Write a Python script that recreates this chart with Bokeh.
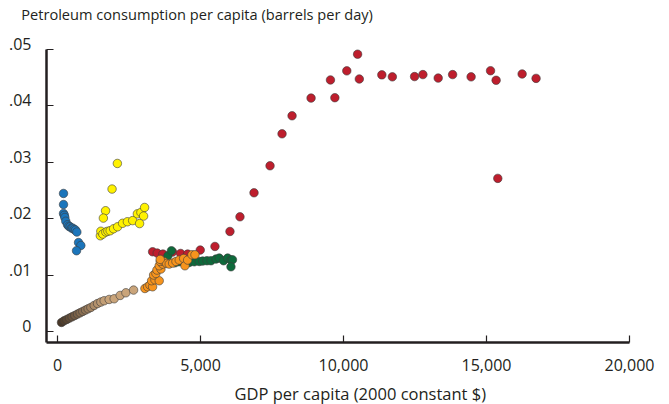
from bokeh.plotting import figure
from bokeh.models import Range1d, FixedTicker, Title, LinearAxis
from bokeh.embed import file_html
from bokeh.resources import INLINE

# ---- data (GDP per capita, petroleum consumption per capita) ----
red_x = [3325, 3486, 3686, 4025, 4305, 4550, 4991, 5505, 6030, 6380, 6871, 7431, 7851, 8201, 8866,
         9544, 9698, 10115, 10493, 10553, 11340, 11708, 12485, 12776, 13311, 13815, 14462, 15141,
         15336, 15395, 16246, 16733]
red_y = [0.01416, 0.01393, 0.01375, 0.01411, 0.01386, 0.01375, 0.01446, 0.0151, 0.01775, 0.02035,
         0.0246, 0.02938, 0.03504, 0.03823, 0.04136, 0.04457, 0.04143, 0.04618, 0.04913, 0.04474,
         0.04547, 0.04512, 0.04517, 0.04552, 0.0449, 0.04552, 0.04512, 0.0462, 0.04451, 0.02715,
         0.04563, 0.04485]

green_x = [3861, 3983, 4106, 4246, 4389, 4494, 4606, 4781, 4956, 5075, 5226, 5366, 5541, 5656,
           5809, 5949, 6065, 6117, 6065]
green_y = [0.01345, 0.01434, 0.01221, 0.01239, 0.01239, 0.01221, 0.01227, 0.01239, 0.01244,
           0.01251, 0.01257, 0.01257, 0.01287, 0.01304, 0.01257, 0.01304, 0.01269, 0.01274, 0.0115]

orange_x = [3056, 3150, 3231, 3325, 3290, 3406, 3556, 3360, 3441, 3476, 3616, 3556, 3675, 3591,
            3731, 3815, 3906, 4025, 4141, 4256, 4410, 4456, 4550, 4700, 4806, 3591]
orange_y = [0.00766, 0.00796, 0.00827, 0.00796, 0.00903, 0.0092, 0.00903, 0.01004, 0.01032,
            0.01092, 0.0111, 0.01168, 0.01198, 0.01244, 0.01239, 0.01209, 0.01198, 0.01216,
            0.01244, 0.01269, 0.01297, 0.01168, 0.01269, 0.01363, 0.01363, 0.01281]

brown_x = [140, 231, 326, 420, 511, 605, 700, 791, 885, 980, 1071, 1166, 1281, 1400, 1516, 1631,
           1806, 1981, 2191, 2391, 2660]
brown_y = [0.00165, 0.00195, 0.00218, 0.00242, 0.00265, 0.00288, 0.00313, 0.00336, 0.0036,
           0.00384, 0.00407, 0.0043, 0.00466, 0.005, 0.00526, 0.00549, 0.00572, 0.00584, 0.00643,
           0.0069, 0.00738]

blue_x = [210, 210, 210, 238, 256, 290, 350, 395, 441, 490, 536, 581, 630, 676, 735, 816, 665]
blue_y = [0.02448, 0.02253, 0.02094, 0.02062, 0.02023, 0.01956, 0.01894, 0.01867, 0.01858,
          0.01835, 0.01832, 0.01811, 0.018, 0.01765, 0.0158, 0.01527, 0.01434]

yellow_x = [2093, 1907, 1680, 1603, 1498, 1515, 1585, 1690, 1760, 1841, 1960, 2100, 2275, 2443,
            2628, 2793, 2915, 3045, 3010, 2870]
yellow_y = [0.02979, 0.02526, 0.02142, 0.02012, 0.01699, 0.01779, 0.01729, 0.01765, 0.01779,
            0.01788, 0.01823, 0.01858, 0.0192, 0.01947, 0.01968, 0.02088, 0.02112, 0.022, 0.02048,
            0.01915]

x_ticks = [0, 5000, 10000, 15000, 20000]
x_tick_labels = ["0", "5,000", "10,000", "15,000", "20,000"]
y_ticks = [0, 0.01, 0.02, 0.03, 0.04, 0.05]
y_tick_labels = ["0", ".01", ".02", ".03", ".04", ".05"]

title_text = "Petroleum consumption per capita (barrels per day)"
xlabel_text = "GDP per capita (2000 constant $)"

FONT = "Open Sans"
TXT = "#231f20"

Y0, Y1 = -0.0019, 0.0512     # plotted y range (axis line stops at .05)
LAB_SHIFT = 0.00095          # y tick labels sit a little above their ticks
TITLE_ANCHOR = 4880          # x position (GDP units) where the title text is centred

p = figure(frame_width=583, frame_height=300,
           min_border_left=46, min_border_right=40, min_border_top=42, min_border_bottom=0,
           x_range=Range1d(-385, 20000), y_range=Range1d(Y0, Y1),
           output_backend="svg", toolbar_location=None)
p.outline_line_color = None
p.xgrid.visible = False
p.ygrid.visible = False
p.background_fill_color = "white"
p.border_fill_color = "white"

xax = p.xaxis[0]
yax = p.yaxis[0]
for ax in (xax, yax):
    ax.axis_line_width = 2.5
    ax.axis_line_color = TXT
    ax.major_tick_in = 7
    ax.major_tick_out = 0
    ax.major_tick_line_color = TXT
    ax.major_tick_line_width = 1.2
    ax.minor_tick_line_color = None

xax.ticker = FixedTicker(ticks=x_ticks)
xax.major_label_overrides = {t: l for t, l in zip(x_ticks, x_tick_labels)}
xax.major_label_text_font = FONT
xax.major_label_text_font_size = "16px"
xax.major_label_text_color = TXT
xax.major_label_standoff = 16

yax.ticker = FixedTicker(ticks=y_ticks)
yax.bounds = (Y0, 0.05)
yax.major_label_overrides = {t: "" for t in y_ticks}
yax.major_label_text_font_size = "1px"
yax.major_label_standoff = 0

# labels-only axis, slightly shifted so labels sit above the ticks
p.extra_y_ranges = {"lab": Range1d(Y0 - LAB_SHIFT, Y1 - LAB_SHIFT)}
lab_axis = LinearAxis(y_range_name="lab", ticker=FixedTicker(ticks=y_ticks),
                      major_label_overrides={t: l for t, l in zip(y_ticks, y_tick_labels)},
                      axis_line_color=None, major_tick_line_color=None,
                      minor_tick_line_color=None, major_label_standoff=9,
                      major_label_text_font=FONT, major_label_text_font_size="16px",
                      major_label_text_color=TXT)
p.add_layout(lab_axis, "left")

# chart title, carried by a bare axis above the frame
title_axis = LinearAxis(ticker=FixedTicker(ticks=[TITLE_ANCHOR]),
                        major_label_overrides={TITLE_ANCHOR: title_text},
                        axis_line_color=None, major_tick_line_color=None,
                        minor_tick_line_color=None, major_tick_in=0, major_tick_out=0,
                        major_label_standoff=19, major_label_text_font=FONT,
                        major_label_text_font_size="14.6px", major_label_text_color=TXT)
p.add_layout(title_axis, "above")

# x axis title
p.add_layout(Title(text=xlabel_text, align="left", offset=188, standoff=13,
                   text_font=FONT, text_font_size="16.5px", text_font_style="normal",
                   text_color=TXT), "below")

def lerp(c1, c2, t):
    a = [int(c1[i:i + 2], 16) for i in (1, 3, 5)]
    b = [int(c2[i:i + 2], 16) for i in (1, 3, 5)]
    return "#%02x%02x%02x" % tuple(int(round(a[k] + (b[k] - a[k]) * t)) for k in range(3))

n_b = len(brown_x)
brown_cols = [lerp("#4a3828", "#c9a47a", min(1.0, i / (n_b * 0.75))) for i in range(n_b)]

common = dict(size=8.5, line_color="#3d3d3d", line_width=0.6)
p.scatter(red_x, red_y, fill_color="#be1e2d", **common)
p.scatter(green_x, green_y, fill_color="#0e6a3b", **common)
p.scatter(orange_x, orange_y, fill_color="#f7941d", **common)
p.scatter(brown_x, brown_y, fill_color=brown_cols, **common)
p.scatter(blue_x, blue_y, fill_color="#1b75bb", **common)
p.scatter(yellow_x, yellow_y, fill_color="#fff200", **common)

open("out.html", "w").write(file_html(p, INLINE))
